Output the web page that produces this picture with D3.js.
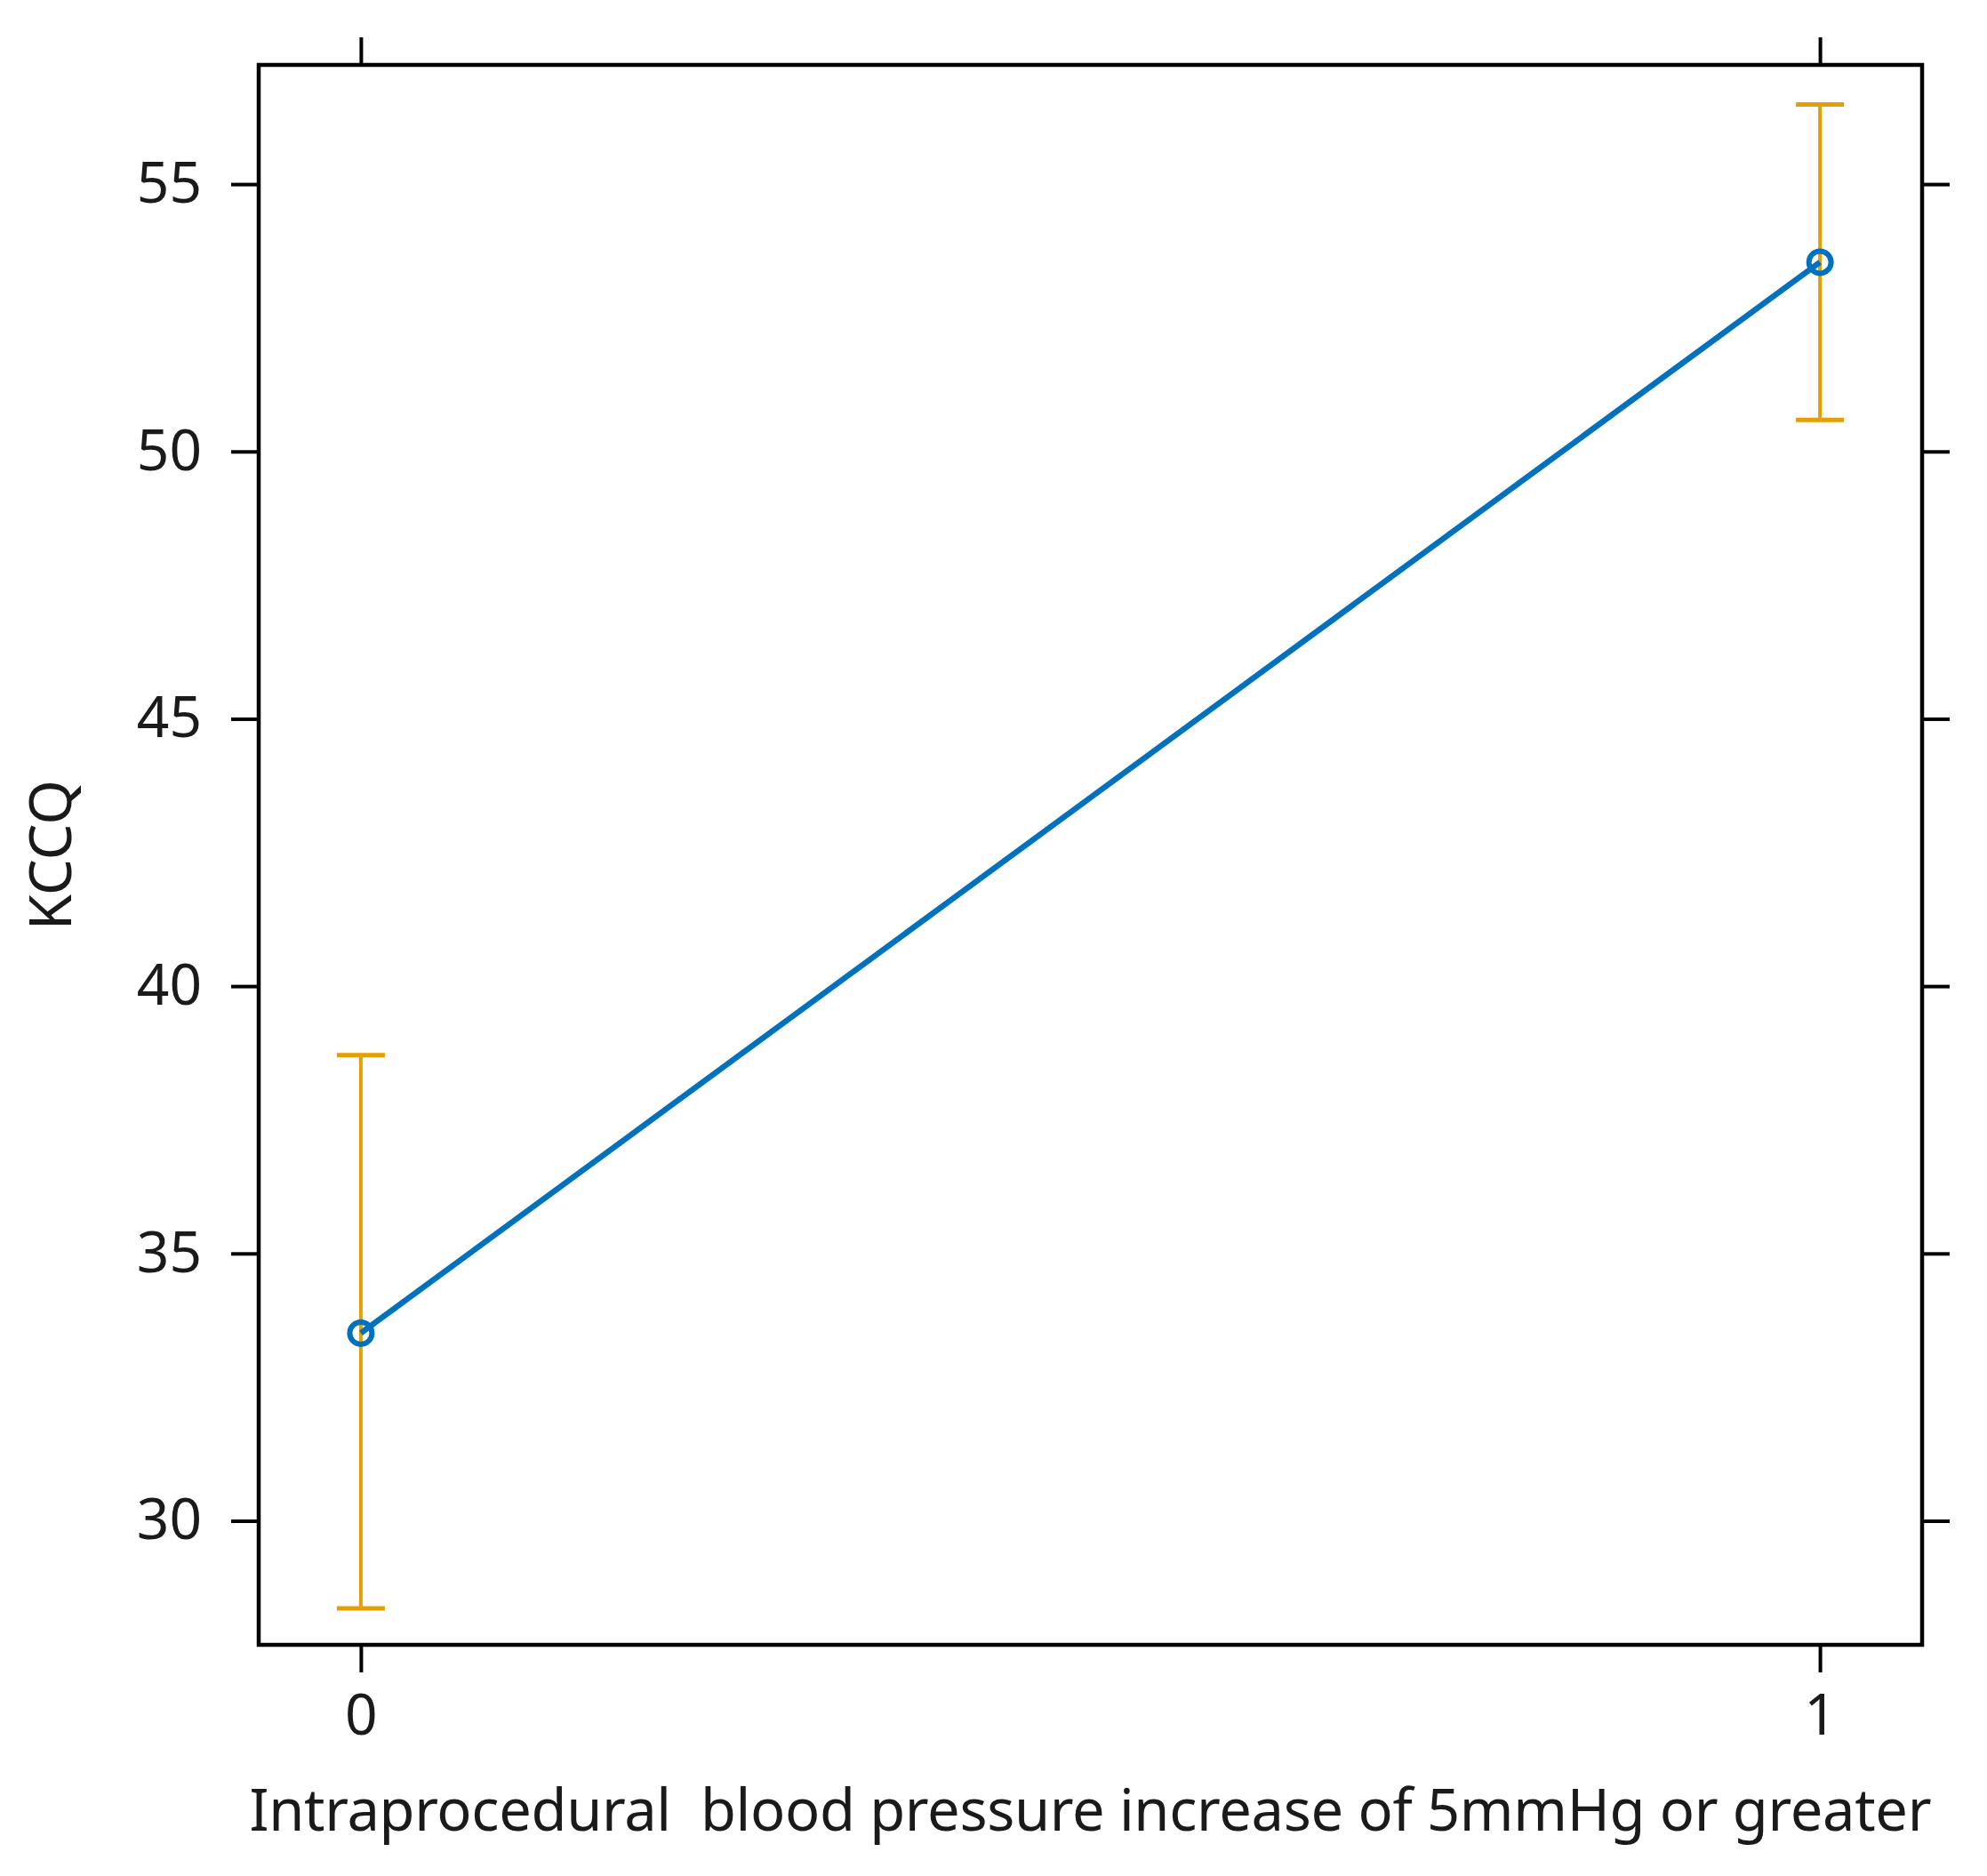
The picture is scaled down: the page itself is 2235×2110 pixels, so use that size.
<!DOCTYPE html>
<html lang="en">
<head>
  <meta charset="UTF-8">
  <title>KCQQ effect plot</title>
  <script src="https://d3js.org/d3.v7.min.js"></script>
  <style>
    html, body { margin: 0; padding: 0; background: #fff; }
    svg, svg text { font-family: "Noto Sans", "Open Sans", sans-serif; }
  </style>
</head>
<body>
  <div id="chart"></div>
  <script>
    // data
    const groups = [0, 1];
    const fit = [33.51, 53.54];
    const lower = [28.36, 50.59];
    const upper = [38.71, 56.49];
    const yTicks = [30, 35, 40, 45, 50, 55];
    const xTicks = [0, 1];
    const xDomain = [-0.07, 1.07];
    const yDomain = [27.68, 57.23];
    const xTitle = "Intraprocedural\u00a0 blood pressure increase of 5mmHg or greater";
    const yTitle = "KCCQ";

    const width = 2235, height = 2110;
    const margin = { top: 73, right: 73, bottom: 260, left: 291 };
    const innerW = width - margin.left - margin.right;
    const innerH = height - margin.top - margin.bottom;

    const blue = "#0072BD", orange = "#E69F00";
    const font = '"Noto Sans", "Open Sans", sans-serif';

    const svg = d3.select("#chart").append("svg")
      .attr("width", width).attr("height", height);

    const g = svg.append("g").attr("transform", `translate(${margin.left},${margin.top})`);

    const x = d3.scaleLinear().domain(xDomain).range([0, innerW]);
    const y = d3.scaleLinear().domain(yDomain).range([innerH, 0]);

    const tickLen = 31;
    function styleAxis(sel) {
      sel.attr("font-family", font).attr("font-size", 64);
      sel.select(".domain").remove();
      sel.selectAll(".tick line").attr("stroke", "#000").attr("stroke-width", 4);
      sel.selectAll(".tick text").attr("fill", "#1a1a1a");
    }

    g.append("g").call(d3.axisLeft(y).tickValues(yTicks).tickSize(tickLen).tickPadding(33)).call(styleAxis);
    g.append("g").attr("transform", `translate(${innerW},0)`)
      .call(d3.axisRight(y).tickValues(yTicks).tickSize(tickLen).tickFormat("")).call(styleAxis);
    g.append("g").attr("transform", `translate(0,${innerH})`)
      .call(d3.axisBottom(x).tickValues(xTicks).tickSize(tickLen).tickPadding(25).tickFormat(d3.format("d"))).call(styleAxis);
    g.append("g")
      .call(d3.axisTop(x).tickValues(xTicks).tickSize(tickLen).tickFormat("")).call(styleAxis);

    // panel border
    g.append("rect").attr("width", innerW).attr("height", innerH)
      .attr("fill", "none").attr("stroke", "#000").attr("stroke-width", 4.5);

    const pts = groups.map((d, i) => ({ x: d, fit: fit[i], lo: lower[i], hi: upper[i] }));

    // confidence bars
    const capW = 27;
    const bars = g.append("g").attr("stroke", orange).attr("fill", "none");
    bars.selectAll("line.v").data(pts).join("line").attr("class", "v")
      .attr("x1", d => x(d.x)).attr("x2", d => x(d.x))
      .attr("y1", d => y(d.lo)).attr("y2", d => y(d.hi))
      .attr("stroke-width", 4);
    bars.selectAll("line.cap").data(pts.flatMap(d => [[d.x, d.lo], [d.x, d.hi]])).join("line").attr("class", "cap")
      .attr("x1", d => x(d[0]) - capW).attr("x2", d => x(d[0]) + capW)
      .attr("y1", d => y(d[1])).attr("y2", d => y(d[1]))
      .attr("stroke-width", 5);

    // fitted line
    g.append("path").datum(pts)
      .attr("fill", "none").attr("stroke", blue).attr("stroke-width", 6.5)
      .attr("d", d3.line().x(d => x(d.x)).y(d => y(d.fit)));

    g.selectAll("circle.pt").data(pts).join("circle").attr("class", "pt")
      .attr("cx", d => x(d.x)).attr("cy", d => y(d.fit)).attr("r", 12.5)
      .attr("fill", "none").attr("stroke", blue).attr("stroke-width", 6);

    // axis titles
    svg.append("text")
      .attr("x", margin.left + innerW / 2).attr("y", 2059)
      .attr("text-anchor", "middle").attr("font-size", 65).attr("fill", "#1a1a1a")
      .attr("textLength", 1892).attr("lengthAdjust", "spacing")
      .text(xTitle);

    svg.append("text")
      .attr("transform", `translate(80,${margin.top + innerH / 2}) rotate(-90)`)
      .attr("text-anchor", "middle").attr("font-size", 65).attr("fill", "#1a1a1a")
      .text(yTitle);
  </script>
</body>
</html>
